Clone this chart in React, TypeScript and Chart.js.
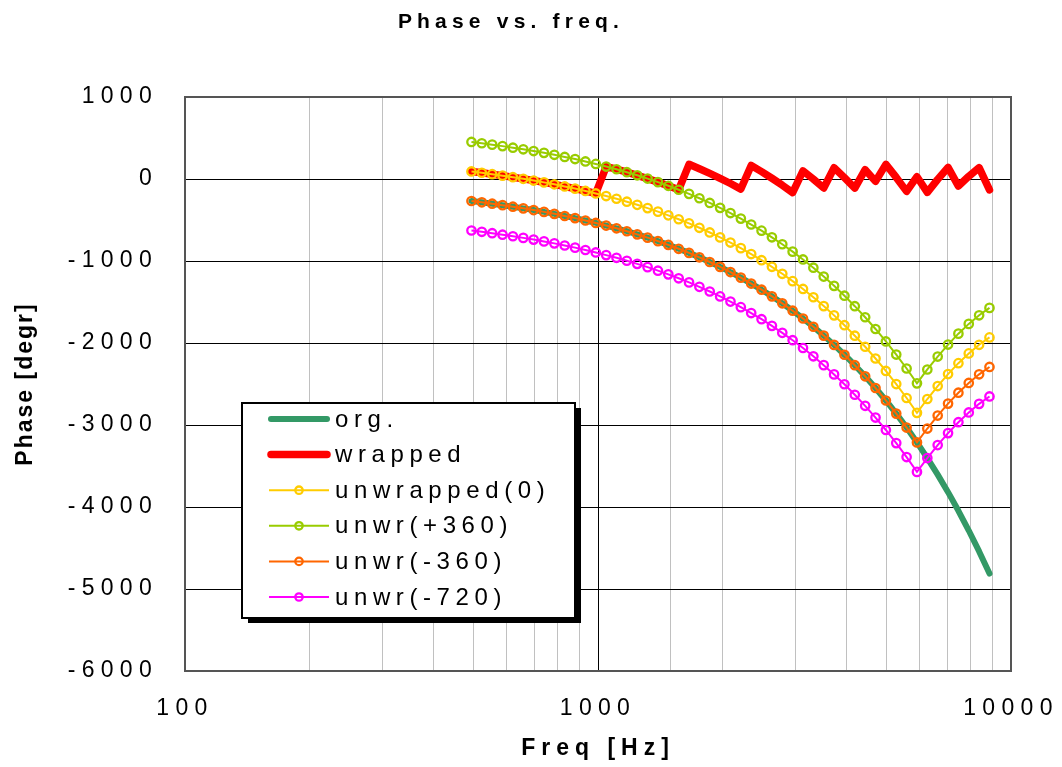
import { useEffect, useRef } from 'react';
import { Chart, registerables } from 'chart.js';

Chart.register(...registerables);

// ---- data ----
const chartTitle = 'Phase vs. freq.';
const xTitle = 'Freq [Hz]';
const yTitle = 'Phase [degr]';
const xTickLabels = [100, 1000, 10000];
const yMin = -6000;
const yMax = 1000;
const yStep = 1000;

const freqs = [
  493.88, 523.25, 554.37, 587.33, 622.25, 659.26, 698.46, 739.99, 783.99, 830.61,
  880, 932.33, 987.77, 1046.5, 1108.73, 1174.66, 1244.51, 1318.51, 1396.91, 1479.98,
  1567.98, 1661.22, 1760, 1864.66, 1975.53, 2093, 2217.46, 2349.32, 2489.02, 2637.02,
  2793.83, 2959.96, 3135.96, 3322.44, 3520, 3729.31, 3951.07, 4186.01, 4434.92, 4698.64,
  4978.03, 5274.04, 5587.65, 5919.91, 6271.93, 6644.88, 7040, 7458.62, 7902.13, 8372.02,
  8869.84,
];

const org = [
  -268, -284, -301, -319, -338, -358, -379, -401, -425, -451, -477, -506, -536, -568, -601,
  -637, -675, -715, -758, -803, -851, -901, -955, -1012, -1072, -1135, -1203, -1275, -1350,
  -1431, -1516, -1606, -1701, -1802, -1910, -2023, -2143, -2271, -2406, -2549, -2701, -2861,
  -3031, -3212, -3403, -3605, -3819, -4046, -4287, -4542, -4812,
];

const wrapped = [
  92, 76, 59, 41, 22, 2, -19, -41, -65, -91, -117, -146, -176, 152, 119, 83, 45, 5, -38, -83,
  -131, 179, 125, 68, 8, -55, -123, 165, 90, 9, -76, -166, 99, -2, -110, 137, 17, -111, 114,
  -29, 179, 19, -151, 28, -163, -5, 141, -86, 33, 138, -132,
];

const unwrapped0 = [
  92, 76, 59, 41, 22, 2, -19, -41, -65, -91, -117, -146, -176, -208, -241, -277, -315, -355,
  -398, -443, -491, -541, -595, -652, -712, -775, -843, -915, -990, -1071, -1156, -1246, -1341,
  -1442, -1550, -1663, -1783, -1911, -2046, -2189, -2341, -2501, -2671, -2852, -2683, -2525,
  -2379, -2246, -2127, -2022, -1932,
];

const unwrP360 = [
  452, 436, 419, 401, 382, 362, 341, 319, 295, 269, 243, 214, 184, 152, 119, 83, 45, 5, -38,
  -83, -131, -181, -235, -292, -352, -415, -483, -555, -630, -711, -796, -886, -981, -1082,
  -1190, -1303, -1423, -1551, -1686, -1829, -1981, -2141, -2311, -2492, -2323, -2165, -2019,
  -1886, -1767, -1662, -1572,
];

const unwrM360 = [
  -268, -284, -301, -319, -338, -358, -379, -401, -425, -451, -477, -506, -536, -568, -601,
  -637, -675, -715, -758, -803, -851, -901, -955, -1012, -1072, -1135, -1203, -1275, -1350,
  -1431, -1516, -1606, -1701, -1802, -1910, -2023, -2143, -2271, -2406, -2549, -2701, -2861,
  -3031, -3212, -3043, -2885, -2739, -2606, -2487, -2382, -2292,
];

const unwrM720 = [
  -628, -644, -661, -679, -698, -718, -739, -761, -785, -811, -837, -866, -896, -928, -961,
  -997, -1035, -1075, -1118, -1163, -1211, -1261, -1315, -1372, -1432, -1495, -1563, -1635,
  -1710, -1791, -1876, -1966, -2061, -2162, -2270, -2383, -2503, -2631, -2766, -2909, -3061,
  -3221, -3391, -3572, -3403, -3245, -3099, -2966, -2847, -2742, -2652,
];

const FONT = '"Liberation Sans", Arial, Helvetica, sans-serif';

function pts(ys: number[]) {
  return freqs.map((f, i) => ({ x: f, y: ys[i] }));
}

export default function App() {
  const ref = useRef<HTMLCanvasElement>(null);

  useEffect(() => {
    document.body.style.margin = '0';
    const canvas = ref.current!;

    const decor = {
      id: 'decor',
      beforeLayout(chart: any) {
        chart.ctx.letterSpacing = '6.3px';
      },
      beforeDraw(chart: any) {
        chart.ctx.letterSpacing = '6.3px';
      },
      beforeDatasetsDraw(chart: any) {
        const { ctx, chartArea: a } = chart;
        ctx.save();
        ctx.strokeStyle = '#555555';
        ctx.lineWidth = 2;
        ctx.strokeRect(a.left, a.top, a.right - a.left, a.bottom - a.top);
        ctx.restore();
      },
      afterDraw(chart: any) {
        const ctx = chart.ctx as CanvasRenderingContext2D & { letterSpacing: string };
        ctx.save();
        // title
        ctx.letterSpacing = '5.2px';
        ctx.font = `bold 21px ${FONT}`;
        ctx.fillStyle = '#000';
        ctx.textAlign = 'center';
        ctx.textBaseline = 'alphabetic';
        ctx.fillText(chartTitle, 511, 28);

        // legend
        const bx = 242, by = 403, bw = 333, bh = 215;
        ctx.fillStyle = '#000';
        ctx.fillRect(bx + 6, by + 5, bw, bh);
        ctx.fillStyle = '#fff';
        ctx.fillRect(bx, by, bw, bh);
        ctx.strokeStyle = '#000';
        ctx.lineWidth = 2;
        ctx.strokeRect(bx, by, bw, bh);
        ctx.letterSpacing = '5.6px';
        ctx.font = `24px ${FONT}`;
        ctx.textAlign = 'left';
        ctx.textBaseline = 'middle';
        chart.data.datasets.forEach((ds: any, i: number) => {
          const y = 419 + i * 35.6;
          ctx.strokeStyle = ds.borderColor;
          ctx.lineWidth = ds.borderWidth;
          ctx.lineCap = ds.pointRadius > 0 ? 'butt' : 'round';
          ctx.beginPath();
          ctx.moveTo(ds.pointRadius > 0 ? 269 : 271, y);
          ctx.lineTo(ds.pointRadius > 0 ? 329 : 327, y);
          ctx.stroke();
          if (ds.pointRadius > 0) {
            ctx.lineWidth = ds.pointBorderWidth;
            ctx.beginPath();
            ctx.arc(299, y, ds.pointRadius - 0.5, 0, Math.PI * 2);
            ctx.stroke();
          }
          ctx.fillStyle = '#000';
          ctx.fillText(ds.label, 335, y + 1);
        });
        ctx.restore();
      },
    };

    const markerSeries = (label: string, color: string, ys: number[], order: number) => ({
      label,
      data: pts(ys),
      borderColor: color,
      backgroundColor: color,
      borderWidth: 2,
      pointRadius: 4.2,
      pointBorderWidth: 2.3,
      pointBorderColor: color,
      pointBackgroundColor: 'rgba(0,0,0,0)',
      pointHoverRadius: 4.2,
      order,
    });

    const chart = new Chart(canvas, {
      type: 'line',
      data: {
        datasets: [
          {
            label: 'org.',
            data: pts(org),
            borderColor: '#339966',
            backgroundColor: '#339966',
            borderWidth: 6,
            pointRadius: 0,
            borderCapStyle: 'round',
            borderJoinStyle: 'round',
            order: 6,
          },
          {
            label: 'wrapped',
            data: pts(wrapped),
            borderColor: '#FF0000',
            backgroundColor: '#FF0000',
            borderWidth: 7.5,
            pointRadius: 0,
            borderCapStyle: 'round',
            borderJoinStyle: 'round',
            order: 5,
          },
          markerSeries('unwrapped(0)', '#FFCC00', unwrapped0, 4),
          markerSeries('unwr(+360)', '#99CC00', unwrP360, 3),
          markerSeries('unwr(-360)', '#FF6600', unwrM360, 2),
          markerSeries('unwr(-720)', '#FF00FF', unwrM720, 1),
        ] as any,
      },
      options: {
        responsive: false,
        animation: false,
        events: [],
        layout: { padding: { top: 97, right: 51, left: 0, bottom: 0 } },
        plugins: {
          legend: { display: false },
          title: { display: false },
          tooltip: { enabled: false },
        },
        scales: {
          x: {
            type: 'logarithmic',
            position: 'bottom',
            min: 100,
            max: 10000,
            afterFit: (s: any) => {
              s.height = 96;
              s.paddingLeft = 0;
              s.paddingRight = 0;
            },
            border: { display: false },
            grid: {
              drawTicks: false,
              lineWidth: 1,
              color: (c: any) => (c.tick && c.tick.value === 1000 ? '#000000' : '#C0C0C0'),
            },
            ticks: {
              autoSkip: false,
              maxRotation: 0,
              minRotation: 0,
              padding: 24,
              color: '#000',
              font: { family: FONT, size: 23 },
              callback: (v: any) => (xTickLabels.includes(Number(v)) ? String(v) : ''),
            },
            title: {
              display: true,
              text: xTitle,
              color: '#000',
              font: { family: FONT, size: 23, weight: 'bold' },
              padding: { top: 0, bottom: 5 },
            },
          },
          y: {
            type: 'linear',
            min: yMin,
            max: yMax,
            afterFit: (s: any) => {
              s.width = 185;
              s.paddingTop = 0;
              s.paddingBottom = 0;
            },
            border: { display: false },
            grid: { drawTicks: false, lineWidth: 1, color: '#000000' },
            ticks: {
              stepSize: yStep,
              padding: 27,
              color: '#000',
              font: { family: FONT, size: 23 },
              callback: (v: any) => String(v),
            },
            title: {
              display: true,
              text: yTitle,
              color: '#000',
              font: { family: FONT, size: 23, weight: 'bold' },
              padding: { top: 12, bottom: 0 },
            },
          },
        },
      } as any,
      plugins: [decor],
    });

    const patchTitle = (scale: any, spacing: string) => {
      if (!scale) return;
      const orig = scale.drawTitle.bind(scale);
      scale.drawTitle = () => {
        const c = chart.ctx as any;
        const prev = c.letterSpacing;
        c.letterSpacing = spacing;
        orig();
        c.letterSpacing = prev;
      };
    };
    patchTitle(chart.scales.x, '6px');
    patchTitle(chart.scales.y, '2px');
    chart.draw();

    return () => chart.destroy();
  }, []);

  return (
    <div style={{ width: 1062, height: 767 }}>
      <canvas ref={ref} width={1062} height={767} style={{ display: 'block' }} />
    </div>
  );
}
